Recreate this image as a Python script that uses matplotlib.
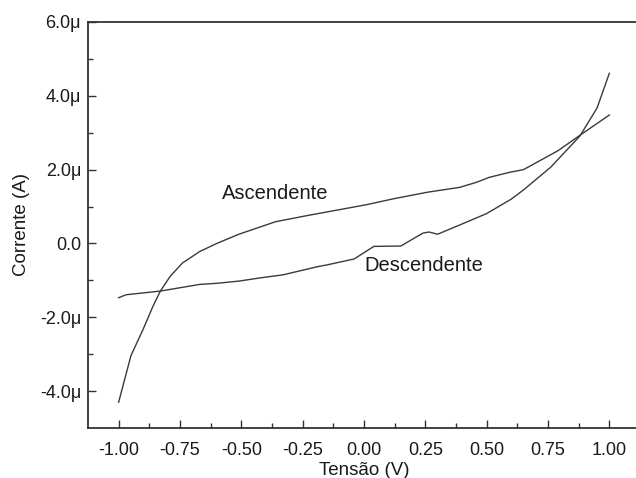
import matplotlib
matplotlib.use("Agg")
import matplotlib.pyplot as plt
from matplotlib.ticker import FixedLocator

plt.rcParams['font.family'] = ['Liberation Sans', 'DejaVu Sans']

# Ascending sweep (values in µA)
asc_x = [-1.00, -0.95, -0.90, -0.86, -0.83, -0.79, -0.74, -0.67, -0.60, -0.51,
         -0.36, -0.22, -0.08, 0.01, 0.12, 0.26, 0.39, 0.46, 0.51, 0.595, 0.65,
         0.79, 0.88, 1.00]
asc_y = [-4.30, -3.04, -2.32, -1.70, -1.29, -0.89, -0.53, -0.22, 0.00, 0.25,
         0.59, 0.77, 0.94, 1.05, 1.21, 1.39, 1.52, 1.66, 1.79, 1.93, 2.00,
         2.51, 2.93, 3.48]

# Descending sweep (values in µA)
desc_x = [-1.00, -0.97, -0.83, -0.67, -0.60, -0.51, -0.42, -0.33, -0.19, -0.15,
          -0.04, 0.04, 0.15, 0.24, 0.265, 0.30, 0.39, 0.50, 0.60, 0.65, 0.76,
          0.88, 0.95, 1.00]
desc_y = [-1.47, -1.39, -1.29, -1.11, -1.08, -1.02, -0.93, -0.85, -0.63, -0.58,
          -0.42, -0.08, -0.07, 0.28, 0.31, 0.25, 0.50, 0.81, 1.20, 1.45, 2.06,
          2.91, 3.67, 4.61]

x_ticks = [-1.00, -0.75, -0.50, -0.25, 0.00, 0.25, 0.50, 0.75, 1.00]
x_labels = ['-1.00', '-0.75', '-0.50', '-0.25', '0.00', '0.25', '0.50', '0.75', '1.00']
y_ticks = [-4.0, -2.0, 0.0, 2.0, 4.0, 6.0]
y_labels = ['-4.0\u03bc', '-2.0\u03bc', '0.0', '2.0\u03bc', '4.0\u03bc', '6.0\u03bc']

fig = plt.figure(figsize=(6.36, 4.78), dpi=100)
ax = fig.add_axes([88/636, 1 - 428/478, (640 - 88)/636, (428 - 22)/478])

line_col = '#3a3a3a'
ax.plot(asc_x, asc_y, color=line_col, lw=1.0)
ax.plot(desc_x, desc_y, color=line_col, lw=1.0)

ax.set_xlim(-1.125, 1.125)
ax.set_ylim(-5.0, 6.0)

ax.xaxis.set_major_locator(FixedLocator(x_ticks))
ax.set_xticklabels(x_labels)
ax.xaxis.set_minor_locator(FixedLocator([v + 0.125 for v in x_ticks[:-1]]))
ax.yaxis.set_major_locator(FixedLocator(y_ticks))
ax.set_yticklabels(y_labels)
ax.yaxis.set_minor_locator(FixedLocator([-3.0, -1.0, 1.0, 3.0, 5.0]))

ax.tick_params(which='both', direction='in', colors='#333333', labelcolor='#1a1a1a',
               labelsize=13, top=False, right=False)
ax.tick_params(which='major', length=6, width=1.0)
ax.tick_params(which='minor', length=3.5, width=1.0)
ax.tick_params(axis='x', which='major', pad=10)
ax.tick_params(axis='y', which='major', pad=5)

for s in ['left', 'bottom', 'top']:
    ax.spines[s].set_linewidth(1.3)
    ax.spines[s].set_color('#333333')
ax.spines['right'].set_visible(False)

ax.set_xlabel('Tensão (V)', fontsize=13.5, labelpad=2.5, color='#1a1a1a')
ax.set_ylabel('Corrente (A)', fontsize=13.5, labelpad=7, color='#1a1a1a')

ax.text(-0.58, 1.36, 'Ascendente', fontsize=14.5, va='center', ha='left', color='#1a1a1a')
ax.text(0.0, -0.60, 'Descendente', fontsize=14.5, va='center', ha='left', color='#1a1a1a')

fig.savefig('out.png', dpi=100)
